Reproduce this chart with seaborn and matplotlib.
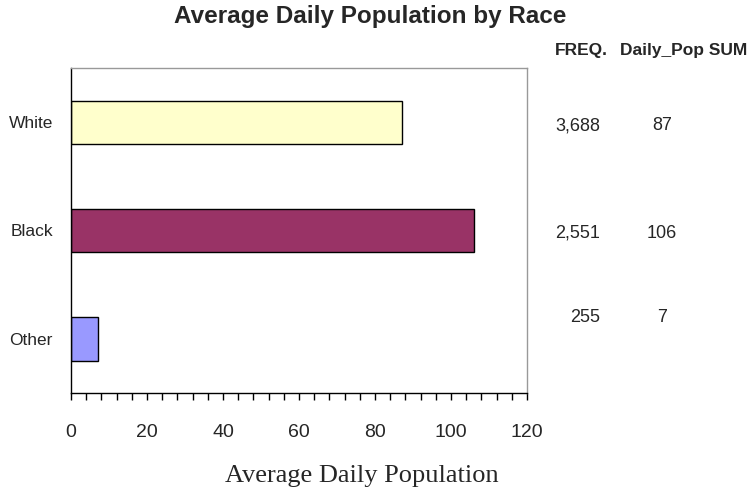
import matplotlib
matplotlib.use("Agg")
import matplotlib.pyplot as plt
from matplotlib.ticker import MultipleLocator
import seaborn as sns
import pandas as pd

# datos
races = ["White", "Black", "Other"]
avg_pop = [87, 106, 7]
freq = ["3,688", "2,551", "255"]
pop_sum = ["87", "106", "7"]
colors = ["#FFFFCC", "#993366", "#9999FF"]

sns.set_style("white")
plt.rcParams['font.family'] = ['Liberation Sans', 'DejaVu Sans']

df = pd.DataFrame({"race": races, "pop": avg_pop})

fig = plt.figure(figsize=(7.56, 4.97), dpi=100)
ax = fig.add_axes([71 / 756, 1 - 393 / 497, 456 / 756, 325 / 497])

sns.barplot(data=df, x="pop", y="race", hue="race", palette=colors, legend=False,
            width=0.4, edgecolor="black", linewidth=1, saturation=1, ax=ax, orient="h")

ax.set_xlim(0, 120)
ax.set_ylim(2.5, -0.5)
ax.xaxis.set_major_locator(MultipleLocator(20))
ax.xaxis.set_minor_locator(MultipleLocator(4))
ax.tick_params(axis="x", which="both", direction="out", length=5, width=1,
               color="black", bottom=True, labelsize=14, pad=17)
ax.tick_params(axis="y", left=False, length=0, labelsize=12.5, pad=13)
ax.set_xlabel("")
ax.set_ylabel("")

for side in ["left", "bottom"]:
    ax.spines[side].set_color("black")
    ax.spines[side].set_linewidth(1)
for side in ["top", "right"]:
    ax.spines[side].set_visible(True)
    ax.spines[side].set_color("#999999")
    ax.spines[side].set_linewidth(1)

fig.text(370 / 756, 1 - 16 / 497, "Average Daily Population by Race", ha="center",
         va="center", fontsize=17.5, fontweight="bold")
fig.text(362 / 756, 1 - 476 / 497, "Average Daily Population", ha="center",
         va="center", fontsize=19, family="Liberation Serif")

# tabla a la derecha
fig.text(608 / 756, 1 - 50 / 497, "FREQ.", ha="right", va="center",
         fontsize=12.5, fontweight="bold")
fig.text(620 / 756, 1 - 50 / 497, "Daily_Pop SUM", ha="left", va="center",
         fontsize=12.5, fontweight="bold")
row_y = [126, 233, 317]
for f, s, yy in zip(freq, pop_sum, row_y):
    fig.text(600 / 756, 1 - yy / 497, f, ha="right", va="center", fontsize=13)
    fig.text(662 / 756, 1 - yy / 497, s, ha="center", va="center", fontsize=13)

fig.savefig("out.png", dpi=100)
